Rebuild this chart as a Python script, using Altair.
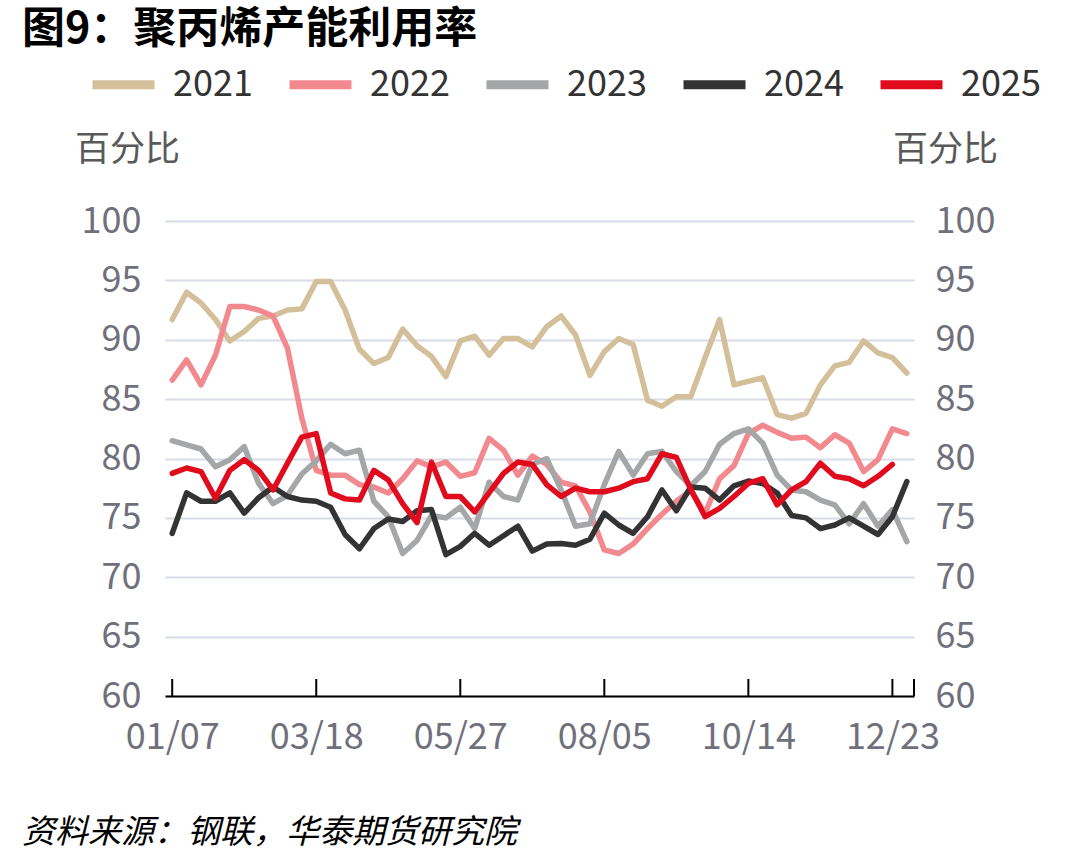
import altair as alt
import pandas as pd

FONT = "Noto Sans CJK SC"

YEARS = ["2021", "2022", "2023", "2024", "2025"]
COLORS = ["#d3c09a", "#f2898f", "#a5a6a8", "#333333", "#e00b1c"]

V2021 = [91.7, 94.0, 93.1, 91.7, 89.9, 90.7, 91.8, 92.0, 92.5, 92.6,
         94.9, 94.9, 92.5, 89.2, 88.0, 88.5, 90.9, 89.5, 88.6, 86.9,
         89.9, 90.3, 88.7, 90.1, 90.1, 89.4, 91.1, 92.0, 90.4, 87.0,
         89.0, 90.1, 89.6, 84.9, 84.4, 85.2, 85.2, 88.5, 91.7, 86.2,
         86.5, 86.8, 83.7, 83.4, 83.8, 86.2, 87.8, 88.1, 89.9, 88.9,
         88.5, 87.2]
V2022 = [86.6, 88.3, 86.2, 88.7, 92.8, 92.8, 92.5, 92.0, 89.3, 83.4,
         79.0, 78.6, 78.6, 77.8, 77.6, 77.1, 78.3, 79.8, 79.3, 79.7,
         78.5, 78.8, 81.7, 80.7, 78.6, 80.2, 79.5, 78.0, 77.7, 75.5,
         72.3, 72.0, 72.8, 74.1, 75.3, 76.4, 77.3, 75.4, 78.3, 79.4,
         82.1, 82.8, 82.2, 81.7, 81.8, 80.9, 82.0, 81.3, 78.9, 79.9,
         82.5, 82.1]
V2023 = [81.5, 81.15, 80.8, 79.3, 79.9, 81.0, 77.9, 76.2, 76.9, 78.7,
         79.8, 81.2, 80.4, 80.7, 76.4, 75.1, 72.0, 73.1, 75.2, 75.0,
         75.9, 74.1, 78.0, 76.8, 76.5, 79.5, 80.0, 77.35, 74.3, 74.5,
         77.8, 80.6, 78.6, 80.4, 80.6, 78.9, 77.7, 78.9, 81.2, 82.1,
         82.5, 81.3, 78.6, 77.35, 77.2, 76.5, 76.1, 74.5, 76.2, 74.3,
         75.7, 73.0]
V2024 = [73.7, 77.1, 76.4, 76.4, 77.1, 75.4, 76.7, 77.6, 76.8, 76.5,
         76.4, 75.9, 73.6, 72.4, 74.1, 74.9, 74.7, 75.6, 75.7, 71.9,
         72.6, 73.7, 72.7, 73.5, 74.3, 72.2, 72.8, 72.85, 72.7, 73.2,
         75.4, 74.4, 73.7, 75.1, 77.35, 75.6, 77.6, 77.5, 76.5, 77.7,
         78.1, 77.9, 77.1, 75.2, 75.0, 74.1, 74.4, 75.0, 74.3, 73.6,
         75.1, 78.05]
V2025 = [78.75, 79.2, 78.9, 76.65, 79.0, 79.9, 79.0, 77.35, 79.6, 81.8,
         82.1, 77.1, 76.6, 76.5, 79.0, 78.2, 76.2, 74.6, 79.7, 76.8,
         76.8, 75.5, 77.1, 78.75, 79.7, 79.5, 77.8, 76.8, 77.5, 77.2,
         77.2, 77.5, 78.05, 78.3, 80.4, 80.1, 77.4, 75.1, 75.8, 76.8,
         77.9, 78.3, 76.1, 77.35, 78.05, 79.6, 78.5, 78.3, 77.7, 78.5,
         79.5]
SERIES = [V2021, V2022, V2023, V2024, V2025]

TICK_POS = [0, 10, 20, 30, 40, 50]
TICK_LABELS = ["01/07", "03/18", "05/27", "08/05", "10/14", "12/23"]
Y_TICKS = [60, 65, 70, 75, 80, 85, 90, 95, 100]

TITLE = "图9：聚丙烯产能利用率"
UNIT = "百分比"
SOURCE = "资料来源：钢联，华泰期货研究院"

XMIN, XMAX = -0.5, 51.5
W, H = 749, 475
PAD_L, PAD_T = 165, 221

rows = []
for yr, vals in zip(YEARS, SERIES):
    for i, v in enumerate(vals):
        rows.append({"year": yr, "idx": i, "value": v})
df = pd.DataFrame(rows)

label_expr = "[" + ",".join("'%s'" % t for t in TICK_LABELS) + "][indexof([" + \
    ",".join(str(p) for p in TICK_POS) + "], datum.value)]"

xscale = alt.Scale(domain=[XMIN, XMAX], nice=False, zero=False)
yscale = alt.Scale(domain=[60, 100], nice=False, zero=False)

AXIS_LABEL_COLOR = "#70707c"

lines = alt.Chart(df).mark_line(strokeWidth=5.5, strokeCap="round", strokeJoin="round").encode(
    x=alt.X("idx:Q", scale=xscale,
            axis=alt.Axis(values=TICK_POS, labelExpr=label_expr, title=None, grid=False,
                          ticks=False, domainColor="#000000", domainWidth=2,
                          labelFontSize=36, labelColor=AXIS_LABEL_COLOR, labelFont=FONT,
                          labelPadding=24, labelFlush=False)),
    y=alt.Y("value:Q", scale=yscale,
            axis=alt.Axis(values=Y_TICKS, title=None, grid=True, gridColor="#d8dce6",
                          gridWidth=2, ticks=False, domain=False, labelPadding=24,
                          labelFontSize=36, labelColor=AXIS_LABEL_COLOR, labelFont=FONT)),
    color=alt.Color("year:N", scale=alt.Scale(domain=YEARS, range=COLORS),
                    legend=alt.Legend(title=None, orient="none", direction="horizontal",
                                      legendX=88 - PAD_L, legendY=49 - PAD_T,
                                      symbolType="stroke", symbolSize=3844,
                                      symbolStrokeWidth=9, labelFontSize=36,
                                      labelColor="#333333", labelFont=FONT,
                                      labelOffset=14, columnPadding=18)),
)

right_axis = alt.Chart(df).mark_line(strokeOpacity=0).encode(
    x=alt.X("idx:Q", scale=xscale, axis=None),
    y=alt.Y("value:Q", scale=yscale,
            axis=alt.Axis(orient="right", values=Y_TICKS, title=None, grid=False,
                          ticks=False, domain=False, labelPadding=21,
                          labelFontSize=36, labelColor=AXIS_LABEL_COLOR, labelFont=FONT)),
    detail="year:N",
)

ticks = alt.Chart(pd.DataFrame({"tp": TICK_POS + [XMAX]})).mark_rule(
    color="#000000", strokeWidth=2).encode(
    x=alt.X("tp:Q", scale=xscale, axis=None),
    y=alt.value(H),
    y2=alt.value(H - 17),
)


def txt(text, x, y, size, align="left", weight="normal", color="#000000", style="normal"):
    return alt.Chart(alt.Data(values=[{"t": text}])).mark_text(
        align=align, baseline="middle", fontSize=size, font=FONT, fontWeight=weight,
        color=color, fontStyle=style,
    ).encode(text="t:N", x=alt.value(x), y=alt.value(y))


title = txt(TITLE, 22 - PAD_L, 30 - PAD_T, 43, weight="bold")
unit_l = txt(UNIT, 75 - PAD_L, 150 - PAD_T, 35, color="#595959")
unit_r = txt(UNIT, 893 - PAD_L, 150 - PAD_T, 35, color="#595959")
source = txt(SOURCE, 22 - PAD_L, 833 - PAD_T, 33, style="italic")

chart = alt.layer(lines, right_axis, ticks, title, unit_l, unit_r, source).resolve_axis(
    y="independent", x="independent"
).properties(
    width=W, height=H,
    padding={"left": PAD_L, "top": PAD_T, "right": 1078 - PAD_L - W, "bottom": 866 - PAD_T - H},
    autosize="none",
    background="#ffffff",
).configure_view(stroke=None)

chart.save("out.html", embed_options={"renderer": "svg", "actions": False})
